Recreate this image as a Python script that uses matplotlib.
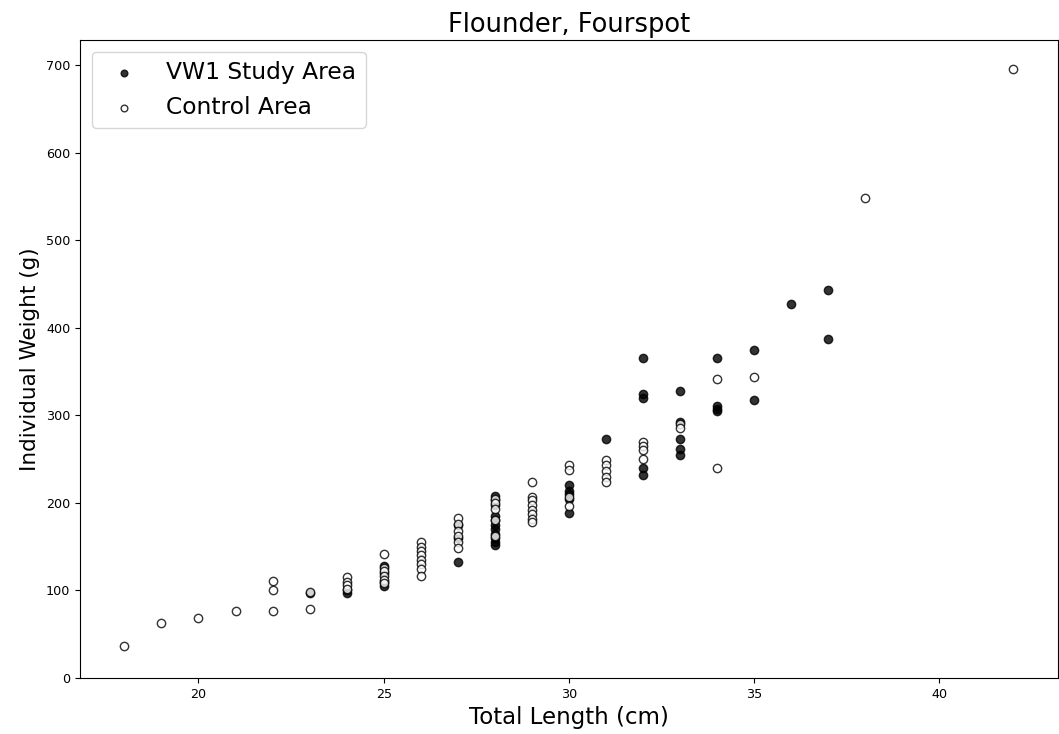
import matplotlib.pyplot as plt
import numpy as np

# VW1 study area (filled)
vw1_len = [23, 24, 24,
           25, 25, 25, 25,
           27, 27, 27,
           28, 28, 28, 28, 28, 28, 28, 28, 28, 28, 28,
           30, 30, 30, 30, 30,
           31,
           32, 32, 32, 32, 32,
           33, 33, 33, 33, 33,
           34, 34, 34, 34,
           35, 35,
           36, 37, 37]
vw1_wt = [97, 97, 100,
          128, 120, 110, 105,
          132, 175, 160,
          208, 203, 198, 185, 180, 175, 170, 165, 160, 155, 152,
          220, 214, 210, 205, 189,
          273,
          366, 324, 320, 240, 232,
          328, 293, 273, 262, 255,
          366, 311, 307, 305,
          375, 318,
          427, 443, 387]

# control area (open)
ctl_len = [18, 19, 20, 21,
           22, 22, 22,
           23, 23,
           24, 24, 24, 24,
           25, 25, 25, 25, 25, 25,
           26, 26, 26, 26, 26, 26, 26, 26,
           27, 27, 27, 27, 27, 27,
           28, 28, 28, 28, 28,
           29, 29, 29, 29, 29, 29, 29, 29,
           30, 30, 30, 30,
           31, 31, 31, 31, 31,
           32, 32, 32, 32,
           33, 33,
           34, 34,
           35, 38, 42]
ctl_wt = [37, 63, 68, 77,
          111, 101, 77,
          98, 79,
          115, 110, 106, 102,
          142, 126, 122, 117, 112, 108,
          155, 150, 145, 140, 135, 130, 125, 117,
          183, 176, 168, 162, 155, 148,
          205, 200, 193, 180, 162,
          224, 207, 203, 198, 192, 187, 182, 178,
          243, 238, 207, 196,
          249, 243, 237, 230, 224,
          270, 265, 260, 250,
          290, 286,
          342, 240,
          344, 548, 696]

fig, ax = plt.subplots(figsize=(10.59, 7.34), dpi=100)
fig.subplots_adjust(left=0.0755, right=0.999, top=0.9455, bottom=0.0763)

ax.scatter(vw1_len, vw1_wt, color="black", alpha=0.8, label="VW1 Study Area")
ax.scatter(ctl_len, ctl_wt, facecolor="white", edgecolor="black", alpha=0.8, label="Control Area")

ax.set_ylim(bottom=0)
ax.tick_params(labelsize=9.2)
ax.set_title("Flounder, Fourspot", fontsize=18.5)
ax.set_xlabel("Total Length (cm)", fontsize=16.5)
ax.set_ylabel("Individual Weight (g)", fontsize=15.5)
ax.legend(loc="upper left", fontsize=16.8, markerscale=0.8)

plt.savefig("out.png")
